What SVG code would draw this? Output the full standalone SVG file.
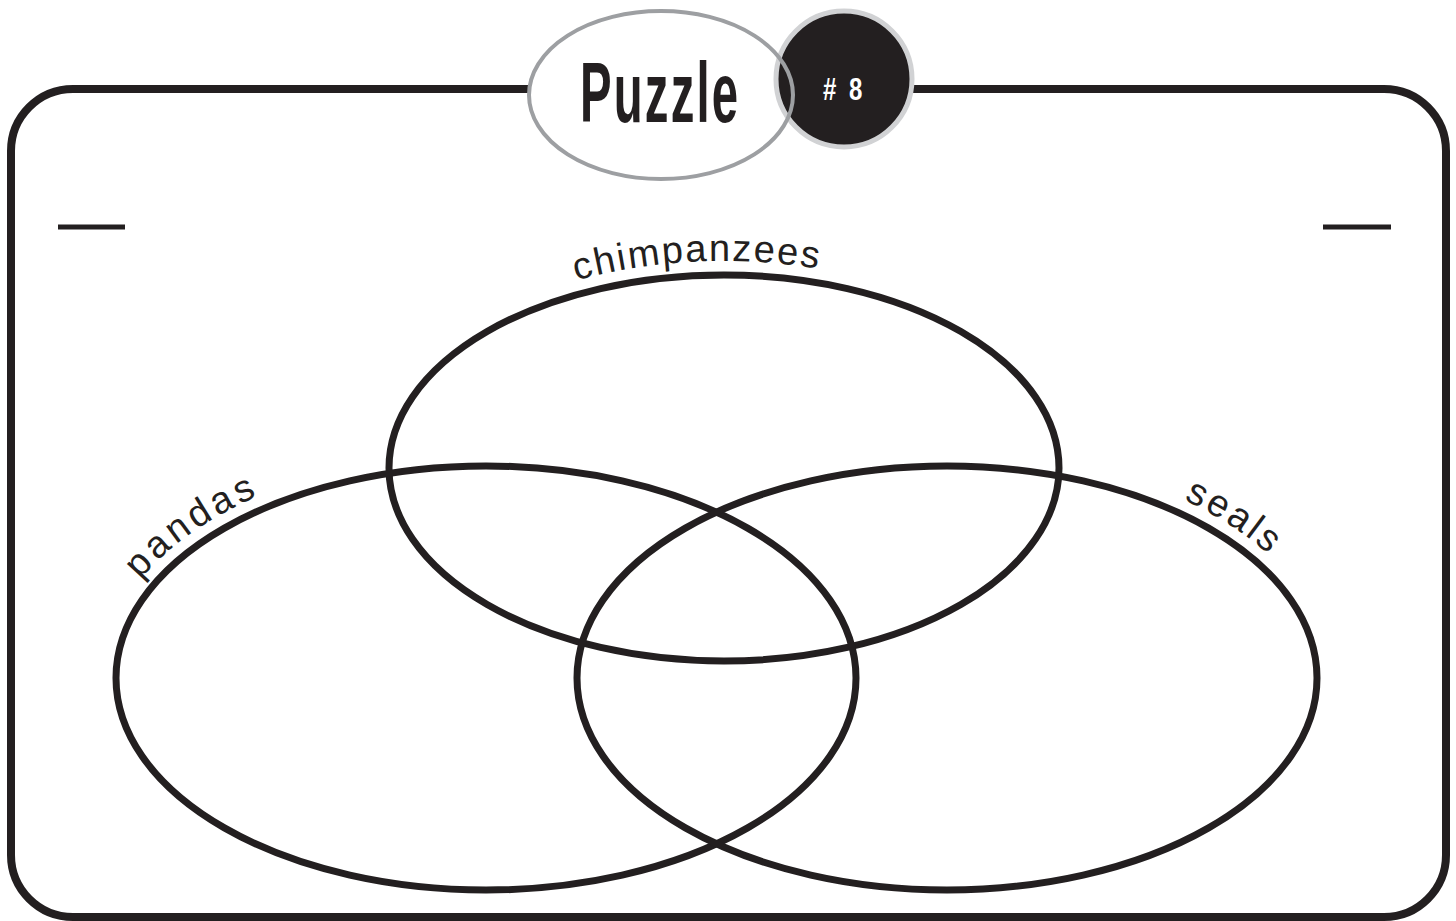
<svg xmlns="http://www.w3.org/2000/svg" width="1456" height="921" viewBox="0 0 1456 921">
<style>
.venn{fill:none;stroke:#231f20;stroke-width:7}
.lbl{font-family:"Liberation Sans",Arial,sans-serif;font-size:38px;fill:#231f20}
</style>
<defs>
<path id="pChimp" d="M 375 468 A 349 207 0 0 1 1073 468"/>
<path id="pPanda" d="M 102 678 A 384 226 0 0 1 486 452"/>
<path id="pSeal" d="M 947 452 A 384 226 0 0 1 1331 678"/>
</defs>
<rect width="1456" height="921" fill="#fff"/>
<g id="frame">
<rect x="11" y="89" width="1435" height="828" rx="62" ry="62" fill="none" stroke="#231f20" stroke-width="8"/>
<line x1="58" y1="227" x2="125" y2="227" stroke="#231f20" stroke-width="5"/>
<line x1="1323" y1="227" x2="1391" y2="227" stroke="#231f20" stroke-width="5"/>
</g>
<g id="title">
<ellipse cx="661" cy="95" rx="132" ry="84" fill="#fff"/>
<circle cx="844" cy="79" r="68" fill="#231f20" stroke="#d1d2d4" stroke-width="5"/>
<ellipse cx="661" cy="95" rx="132" ry="84" fill="none" stroke="#9d9fa2" stroke-width="4"/>
<text transform="translate(580 122) scale(0.55 1)" font-family="Liberation Sans,Arial,sans-serif" font-weight="bold" font-size="86" fill="#231f20" letter-spacing="4">Puzzle</text>
<text transform="translate(823 100) scale(0.75 1)" font-family="Liberation Sans,Arial,sans-serif" font-weight="bold" font-size="32" fill="#fff" letter-spacing="4"># 8</text>
</g>
<g id="chimpanzees">
<ellipse class="venn" cx="724" cy="468" rx="335" ry="193"/>
<text class="lbl" letter-spacing="2"><textPath href="#pChimp" startOffset="417" text-anchor="middle">chimpanzees</textPath></text>
</g>
<g id="pandas">
<ellipse class="venn" cx="486" cy="678" rx="370" ry="212"/>
<text class="lbl" letter-spacing="4"><textPath href="#pPanda" startOffset="182" text-anchor="middle">pandas</textPath></text>
</g>
<g id="seals">
<ellipse class="venn" cx="947" cy="678" rx="370" ry="212"/>
<text class="lbl" letter-spacing="3"><textPath href="#pSeal" startOffset="295" text-anchor="middle">seals</textPath></text>
</g>
</svg>
